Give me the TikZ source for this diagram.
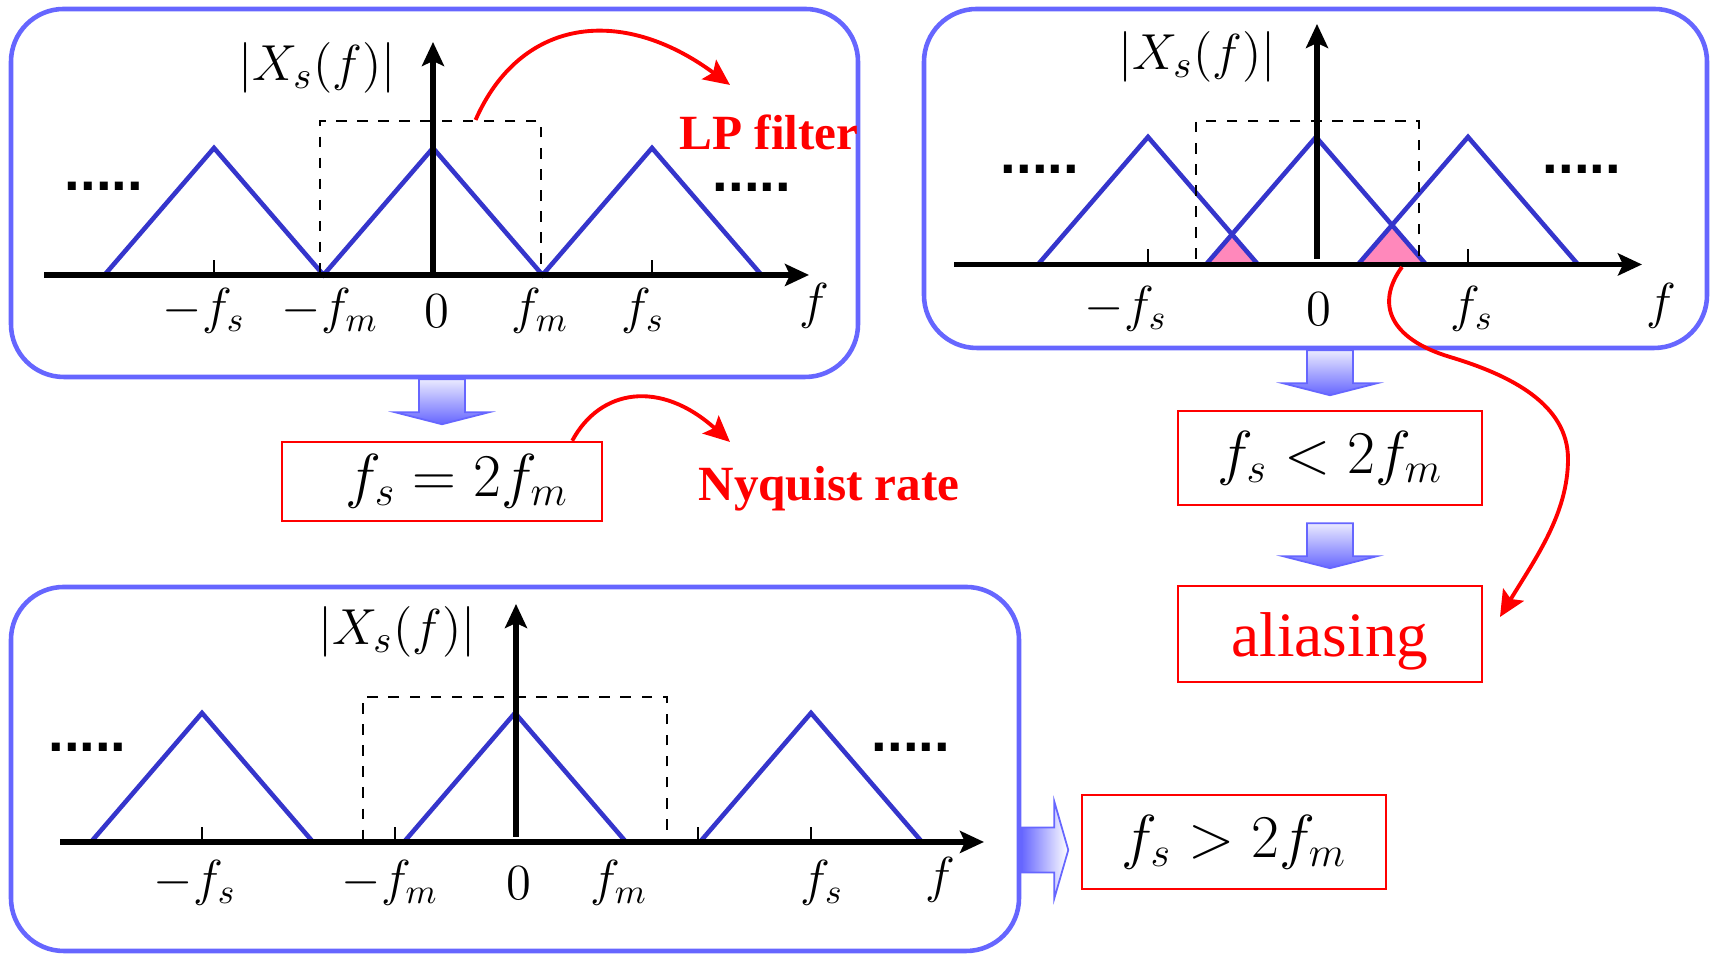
\documentclass[tikz,border=0pt]{standalone}
\usepackage{fontspec}
\newfontfamily\timesfont{Liberation Serif}
\newfontfamily\dotsfont{Liberation Sans}
\usetikzlibrary{arrows.meta,calc}
\definecolor{panelblue}{HTML}{6666FF}
\definecolor{specblue}{HTML}{3535CC}
\definecolor{arrowlight}{HTML}{EAEAFF}
\definecolor{aliaspink}{HTML}{FF88BB}

\begin{document}
\begin{tikzpicture}[
 panel/.style={draw=panelblue,line width=1.3pt,rounded corners=15pt,inner sep=0pt},
 lp/.style={draw,dashed,line width=0.6pt,inner sep=0pt},
 spec/.style={specblue,line width=1.3pt},
 ax/.style={-{Stealth[length=2.4mm,width=2.2mm,inset=0.5mm]},line width=1.5pt},
 tk/.style={line width=0.5pt},
 lbl/.style={inner sep=1pt,font=\fontsize{14}{16}\selectfont},
 cond/.style={draw=red,line width=0.7pt,minimum width=3.04cm,minimum height=0.94cm,inner sep=0pt,font=\fontsize{18.5}{21}\selectfont},
 note/.style={inner sep=1pt,text=red,font=\timesfont\bfseries\fontsize{14}{16}\selectfont},
 more/.style={inner sep=0pt,font=\dotsfont\bfseries\fontsize{16}{18}\selectfont},
 blk/.style={draw=panelblue,line width=0.5pt},
 a/.style={-{Stealth[length=2.6mm,width=2.4mm,inset=0.5mm]},line width=1.1pt,red}]
\fill[white,use as bounding box] (0,0) rectangle (17.14,9.54);

\node[panel,minimum width=8.47cm,minimum height=3.68cm] (pA) at (4.345,7.61) {};
\node[panel,minimum width=7.83cm,minimum height=3.39cm] (pB) at (13.155,7.755) {};
\node[panel,minimum width=10.08cm,minimum height=3.64cm] (pC) at (5.15,1.85) {};

\draw[spec] (1.045,6.79) -- (2.14,8.06) -- (3.235,6.79) -- (4.33,8.06) -- (5.425,6.79) -- (6.52,8.06) -- (7.615,6.79);
\node[lp,minimum width=2.21cm,minimum height=1.54cm] (lpA) at (4.305,7.56) {};
\draw[ax] (0.44,6.79) -- (8.09,6.79);
\draw[ax] (4.33,6.79) -- (4.33,9.12);
\draw[tk] (2.14,6.79) -- (2.14,6.94); \draw[tk] (6.52,6.79) -- (6.52,6.94);
\node[lbl,font=\fontsize{15}{17}\selectfont] (xA) at (3.17,8.86) {$|X_s(f)|$};
\node[lbl] (a1) at (2.04,6.43) {$-f_s$};
\node[lbl] (a2) at (3.30,6.43) {$-f_m$};
\node[lbl] (a3) at (4.37,6.43) {$0$};
\node[lbl] (a4) at (5.40,6.43) {$f_m$};
\node[lbl] (a5) at (6.43,6.43) {$f_s$};
\node[lbl] (a6) at (8.14,6.48) {$f$};
\node[more] (mA1) at (1.04,7.68) {.....};
\node[more] (mA2) at (7.52,7.67) {.....};
\node[note] (lpT) at (7.69,8.22) {LP filter};
\coordinate (lpTip) at (7.30,8.69);
\draw[a] (lpA.60) .. controls (5.2,9.35) and (6.2,9.5) .. (lpTip);

\fill[aliaspink] (12.06,6.895) -- (12.32,7.196) -- (12.58,6.895) -- cycle;
\fill[aliaspink] (13.58,6.895) -- (13.92,7.289) -- (14.26,6.895) -- cycle;
\draw[spec] (10.38,6.895) -- (11.48,8.17) -- (12.58,6.895);
\draw[spec] (12.06,6.895) -- (13.16,8.17) -- (14.26,6.895);
\draw[spec] (13.58,6.895) -- (14.68,8.17) -- (15.78,6.895);
\node[lp,minimum width=2.23cm,minimum height=1.435cm] (lpB) at (13.075,7.6125) {};
\draw[ax] (9.54,6.895) -- (16.42,6.895);
\draw[ax] (13.17,6.95) -- (13.17,9.30);
\draw[tk] (11.48,6.895) -- (11.48,7.045); \draw[tk] (14.68,6.895) -- (14.68,7.045);
\node[lbl,font=\fontsize{15}{17}\selectfont] (xB) at (11.97,8.97) {$|X_s(f)|$};
\node[lbl] (b1) at (11.26,6.45) {$-f_s$};
\node[lbl] (b2) at (13.19,6.45) {$0$};
\node[lbl] (b3) at (14.72,6.45) {$f_s$};
\node[lbl] (b4) at (16.61,6.48) {$f$};
\node[more] (mB1) at (10.40,7.85) {.....};
\node[more] (mB2) at (15.82,7.85) {.....};

\draw[spec] (0.91,1.12) -- (2.02,2.41) -- (3.13,1.12);
\draw[spec] (4.04,1.12) -- (5.15,2.41) -- (6.26,1.12);
\draw[spec] (7.00,1.12) -- (8.11,2.41) -- (9.22,1.12);
\node[lp,minimum width=3.04cm,minimum height=1.45cm] (lpC) at (5.15,1.845) {};
\draw[ax] (0.60,1.12) -- (9.84,1.12);
\draw[ax] (5.16,1.17) -- (5.16,3.50);
\draw[tk] (2.02,1.12) -- (2.02,1.27); \draw[tk] (3.95,1.12) -- (3.95,1.27);
\draw[tk] (6.98,1.12) -- (6.98,1.27); \draw[tk] (8.11,1.12) -- (8.11,1.27);
\node[lbl,font=\fontsize{15}{17}\selectfont] (xC) at (3.97,3.22) {$|X_s(f)|$};
\node[lbl] (c1) at (1.95,0.71) {$-f_s$};
\node[lbl] (c2) at (3.90,0.71) {$-f_m$};
\node[lbl] (c3) at (5.19,0.71) {$0$};
\node[lbl] (c4) at (6.19,0.71) {$f_m$};
\node[lbl] (c5) at (8.22,0.71) {$f_s$};
\node[lbl] (c6) at (9.40,0.74) {$f$};
\node[more] (mC1) at (0.875,2.07) {.....};
\node[more] (mC2) at (9.11,2.07) {.....};

\node[cond,minimum width=3.20cm,minimum height=0.79cm] (eqA) at (4.42,4.725) {\hspace{0.3cm}$f_s=2f_m$};
\node[note] (nyq) at (8.29,4.65) {Nyquist rate};
\coordinate (nyqTip) at (7.30,5.12);
\draw[a] ($(eqA.north east)+(-0.31,0)$) .. controls (6.0,5.65) and (6.6,5.75) .. (nyqTip);
\node[cond] (eqB) at (13.30,4.96) {$f_s<2f_m$};
\node[cond,minimum height=0.96cm,text height=0.58cm,text=red,font=\timesfont\fontsize{18}{20}\selectfont] (alias) at (13.30,3.20) {aliasing};
\node[cond] (eqC) at (12.34,1.12) {$f_s>2f_m$};
\coordinate (ovR) at (14.02,6.87);
\coordinate (aliasTip) at (15.00,3.37);
\draw[a] (ovR) .. controls (13.75,6.5) and (13.9,6.15) .. (14.5,5.97) .. controls (15.1,5.79) and (15.68,5.5) .. (15.68,4.95) .. controls (15.68,4.4) and (15.35,3.95) .. (aliasTip);

\shadedraw[blk,top color=arrowlight,bottom color=panelblue] ($(eqA |- pA.south)+(-0.23,0)$) -- ++(0.46,0) -- ++(0,-0.33) -- ++(0.24,0) -- ++(-0.47,-0.12) -- ++(-0.47,0.12) -- ++(0.24,0) -- cycle;
\shadedraw[blk,top color=arrowlight,bottom color=panelblue] ($(eqB |- pB.south)+(-0.23,0)$) -- ++(0.46,0) -- ++(0,-0.33) -- ++(0.24,0) -- ++(-0.47,-0.12) -- ++(-0.47,0.12) -- ++(0.24,0) -- cycle;
\shadedraw[blk,top color=arrowlight,bottom color=panelblue] ($(eqB.south)+(-0.23,-0.17)$) -- ++(0.46,0) -- ++(0,-0.33) -- ++(0.24,0) -- ++(-0.47,-0.12) -- ++(-0.47,0.12) -- ++(0.24,0) -- cycle;
\shadedraw[blk,left color=panelblue,right color=white] ($(pC.east |- eqC)+(0,0.145)$) -- ++(0.33,0) -- ++(0,0.26) -- ++(0.14,-0.485) -- ++(-0.14,-0.485) -- ++(0,0.26) -- ++(-0.33,0) -- cycle;
\end{tikzpicture}
\end{document}
